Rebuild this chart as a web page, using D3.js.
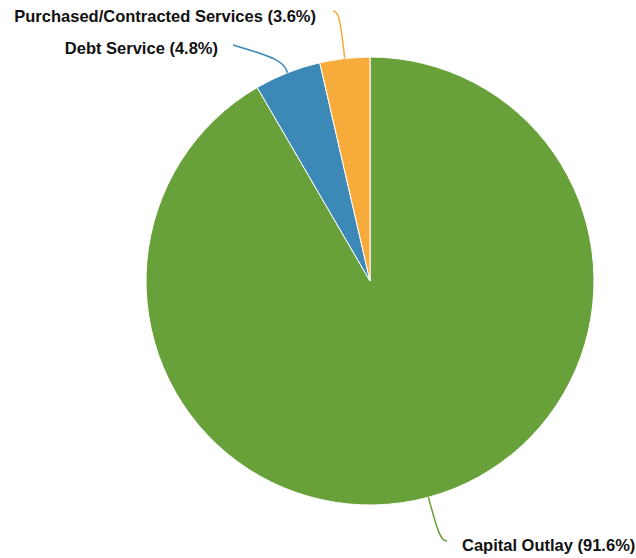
<!DOCTYPE html>
<html>
<head>
<meta charset="utf-8">
<script src="https://cdn.jsdelivr.net/npm/d3@7"></script>
<style>
  html, body { margin: 0; padding: 0; background: #fff; }
  svg { display: block; }
  text { font-family: "Liberation Sans", Arial, Helvetica, sans-serif; font-weight: bold; font-size: 16.5px; fill: #111; }
</style>
</head>
<body>
<svg id="chart" width="636" height="558"></svg>
<script>
// Expenditure shares by category (percent)
const categories = ["Capital Outlay", "Debt Service", "Purchased/Contracted Services"];
const shares = [91.6, 4.8, 3.6];
const colors = ["#68a03a", "#3c89b8", "#f7ab3a"];

// Label layout: elbow radius beyond the rim, and label anchor point
const elbowOffset = [44, 14, 46];
const labelAnchor = [[447, 541], [233, 45], [333, 11]];
const labelText = [[462, 545, "start"], [218, 48, "end"], [316, 16, "end"]];

const width = 636, height = 558;
const cx = 370, cy = 281, radius = 224;

const svg = d3.select("#chart");
const g = svg.append("g").attr("transform", `translate(${cx},${cy})`);

const data = categories.map((c, i) => ({ name: c, value: shares[i], color: colors[i], i }));

const pie = d3.pie().value(d => d.value).sort(null);
const arc = d3.arc().innerRadius(0).outerRadius(radius);
const arcs = pie(data);

g.selectAll("path.slice")
  .data(arcs)
  .join("path")
  .attr("class", "slice")
  .attr("d", arc)
  .attr("fill", d => d.data.color)
  .attr("stroke", "#fff")
  .attr("stroke-width", 1);

const line = d3.line().curve(d3.curveBasis);

arcs.forEach(a => {
  const i = a.data.i;
  const mid = (a.startAngle + a.endAngle) / 2;
  const p0 = [radius * Math.sin(mid), -radius * Math.cos(mid)];
  const re = radius + elbowOffset[i];
  const p1 = [re * Math.sin(mid), -re * Math.cos(mid)];
  const p2 = [labelAnchor[i][0] - cx, labelAnchor[i][1] - cy];
  g.append("path")
    .attr("d", line([p0, p1, p2]))
    .attr("fill", "none")
    .attr("stroke", a.data.color)
    .attr("stroke-width", 1.5);

  const [tx, ty, anchor] = labelText[i];
  svg.append("text")
    .attr("x", tx)
    .attr("y", ty)
    .attr("dy", "0.35em")
    .attr("text-anchor", anchor)
    .text(`${a.data.name} (${a.data.value}%)`);
});
</script>
</body>
</html>
